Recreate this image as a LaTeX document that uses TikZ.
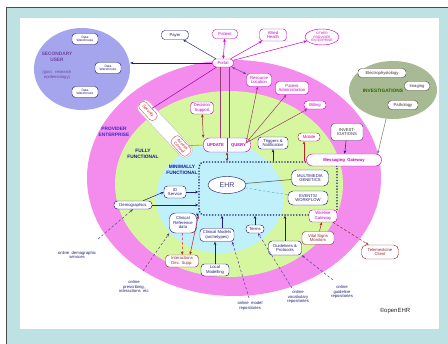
\documentclass[tikz,border=0pt]{standalone}
\usepackage{fontspec}
\setmainfont{Liberation Sans}
\usetikzlibrary{arrows.meta,shapes.geometric}
\definecolor{tealbg}{RGB}{190,226,228}
\definecolor{pinkr}{RGB}{243,140,236}
\definecolor{greenr}{RGB}{214,246,160}
\definecolor{bluer}{RGB}{192,240,250}
\definecolor{lavr}{RGB}{165,165,238}
\definecolor{oliver}{RGB}{168,186,148}
\definecolor{navyc}{RGB}{30,30,120}
\definecolor{magc}{RGB}{200,0,200}
\definecolor{brnc}{RGB}{150,40,50}
\definecolor{redc}{RGB}{190,30,40}
\definecolor{purc}{RGB}{110,70,160}
\definecolor{lnc}{RGB}{150,60,110}
\definecolor{ringc}{RGB}{60,40,200}
\definecolor{greentx}{RGB}{50,100,0}
\newcommand\fsA{\fontsize{4.2}{4.5}\selectfont}
\newcommand\fsB{\fontsize{4.8}{5.3}\selectfont}
\newcommand\fsC{\fontsize{3.3}{3.7}\selectfont}
\tikzset{
 bx/.style={draw, fill=white, rounded corners=3.5pt, inner sep=0.6pt, align=center, font=\fsA, line width=0.45pt},
 nv/.style={bx, draw=navyc, text=navyc},
 mg/.style={bx, draw=magc, text=magc},
 rd/.style={bx, draw=brnc, text=brnc},
 gy/.style={bx, draw=gray!60!black, text=gray!40!black},
 arr/.style={-{Stealth[length=3.2pt,width=2.6pt]}, line width=0.5pt},
 arrb/.style={{Stealth[length=3.2pt,width=2.6pt]}-{Stealth[length=3.2pt,width=2.6pt]}, line width=0.5pt},
 dsh/.style={dash pattern=on 2.5pt off 2pt},
 lbl/.style={font=\fsA, text=navyc, align=center, inner sep=0pt},
 ringlbl/.style={font=\fsB\bfseries, text=ringc, align=center, inner sep=0pt}
}
\begin{document}
\begin{tikzpicture}[x=1pt,y=-1pt]
\useasboundingbox (0,0) rectangle (448,344);
\fill[white] (0,0) rectangle (448,344);
\fill[tealbg] (6,7) rectangle (448,344);
\draw[gray!60!black, line width=0.8pt] (6,344) -- (6,7) -- (448,7);
\fill[white] (20,18) rectangle (439,329);
% rings
\fill[pinkr] (234,178) ellipse [x radius=147pt, y radius=118pt];
\fill[greenr] (229,184) ellipse [x radius=114pt, y radius=93pt];
\fill[bluer] (220,198) ellipse [x radius=64pt, y radius=55pt];
% side ellipses
\node[ellipse, fill=lavr, minimum width=96pt, minimum height=82pt] (sec2) at (82,69) {};
\node[font=\fsB\bfseries, text=purc, align=center, inner sep=0pt] (secl) at (57,57) {SECONDARY\\USER};
\node[font=\fsA, text=purc, align=center, inner sep=0pt] (secl2) at (57,75) {(govt,\ \ research\\epidemiology)};
\node[nv, font=\fsC, minimum width=26pt, minimum height=11pt] (dw1) at (85,39) {Data\\Warehouse};
\node[nv, font=\fsC, minimum width=26pt, minimum height=11pt] (dw2) at (108,68) {Data\\Warehouse};
\node[nv, font=\fsC, minimum width=26pt, minimum height=11pt] (dw3) at (85,92) {Data\\Warehouse};
\node[ellipse, fill=oliver, minimum width=88pt, minimum height=58pt] (invell) at (393,90) {};
\node[font=\fsB\bfseries, text=greentx, inner sep=0pt] (invl) at (383,91) {INVESTIGATIONS};
\node[gy, minimum width=48pt, minimum height=9pt] (electro) at (382,73) {Electrophysiology};
\node[gy, minimum width=25pt, minimum height=9pt] (imaging) at (417,86) {Imaging};
\node[gy, minimum width=30pt, minimum height=9pt] (path) at (403,105) {Pathology};
% ring labels
\node[ringlbl] (pe) at (114,132) {PROVIDER\\ENTERPRISE};
\node[ringlbl, text=navyc!80!blue] (ff) at (143,154) {FULLY\\FUNCTIONAL};
\node[ringlbl, text=navyc!80!blue] (mf) at (182,170) {MINIMALLY\\FUNCTIONAL};
% EHR dotted box
\node[draw=navyc, line width=1.3pt, dash pattern=on 1.3pt off 1.6pt, rounded corners=5pt, minimum width=138pt, minimum height=53pt, inner sep=0pt] (ehrbox) at (268,188.5) {};
% security bar
\node[rotate=-47, draw=gray!50, fill=white, rounded corners=5pt, minimum width=72pt, minimum height=14pt] (secbar) at (165,129) {};
\node[rotate=-47, bx, draw=redc!70, text=redc, minimum width=22pt, minimum height=9pt] (sec) at (148,111) {Security};
\node[rotate=-47, bx, draw=redc!70, text=redc, minimum width=22pt, minimum height=11pt] (acc) at (181,146) {Access\\Control};
% top nodes
\node[nv, minimum width=27pt, minimum height=9pt] (payer) at (175,35) {Payer};
\node[mg, minimum width=25pt, minimum height=9pt] (patient) at (225,34) {Patient};
\node[mg, minimum width=27pt, minimum height=12pt] (allied) at (273,35) {Allied\\Health};
\node[mg, ellipse, inner sep=0pt, font=\fsC, minimum width=34pt, minimum height=16pt] (other) at (322,37) {OTHER\\PROVIDER\\ENTERPRISE};
\node[mg, minimum width=21pt, minimum height=8pt] (portal) at (223,63) {Portal};
\node[mg, minimum width=25pt, minimum height=13pt] (resloc) at (259,80) {Resource\\Location};
\node[mg, minimum width=33pt, minimum height=13pt] (patadm) at (292,88) {Patient\\Administration};
\node[mg, minimum width=22pt, minimum height=8pt] (billing) at (315,105) {Billing};
\node[mg, minimum width=23pt, minimum height=12pt] (decsup) at (202,108) {Decision\\Support};
\node[rd, text=magc!70!red, minimum width=22pt, minimum height=8pt] (mobile) at (309,137) {Mobile};
\node[nv, minimum width=30pt, minimum height=12pt] (trig) at (273,143) {Triggers \&\\Notification};
\node[gy, draw=navyc!60!gray, minimum width=32pt, minimum height=17pt] (invest) at (347,132) {INVEST-\\IGATIONS};
\node[mg, font=\fsA\bfseries, rounded corners=6pt, minimum width=75pt, minimum height=12pt] (msg) at (344,160) {Messaging\ \ Gateway};
% update query
\node[mg, rounded corners=6pt, minimum width=47pt, minimum height=14pt] (uq) at (227,145) {};
\node[font=\fsA\bfseries, text=magc, inner sep=0pt] (upd) at (215.5,145) {UPDATE};
\node[font=\fsA\bfseries, text=magc, inner sep=0pt] (qry) at (238.5,145) {QUERY};
\draw[magc, line width=0.45pt] (uq.north) -- (uq.south);
% inner nodes
\node[nv, ellipse, inner sep=0pt, font=\fontsize{7}{8}\selectfont, text=navyc!60!gray, minimum width=38pt, minimum height=17pt] (ehr) at (227,185) {EHR};
\node[nv, rounded corners=5pt, minimum width=37pt, minimum height=16pt] (mm) at (310,178) {MULTIMEDIA\\GENETICS};
\node[nv, rounded corners=5pt, minimum width=40pt, minimum height=14pt] (ev) at (308,198) {EVENTS/\\WORKFLOW};
\node[mg, minimum width=28pt, minimum height=12pt] (wire) at (323,216) {Wireline\\Gateway};
\node[rd, minimum width=32pt, minimum height=13pt] (vital) at (318,238) {Vital Signs\\Monitors};
\node[rd, minimum width=37pt, minimum height=14pt, rounded corners=5pt] (tele) at (380,252) {Telemedicine\\Client};
\node[nv, minimum width=33pt, minimum height=14pt] (guide) at (285,248) {Guidelines \&\\Protocols};
\node[nv, minimum width=18pt, minimum height=8pt] (terms) at (255,229) {Terms};
\node[nv, minimum width=34pt, minimum height=13pt] (cm) at (217,235) {Clinical Models\\(archetypes)};
\node[nv, minimum width=28pt, minimum height=12pt] (local) at (215,270) {Local\\Modelling};
\node[nv, rounded corners=6pt, minimum width=27pt, minimum height=20pt] (cref) at (183,223) {Clinical\\Reference\\data};
\node[rd, minimum width=33pt, minimum height=12pt] (inter) at (182,261) {Interactions\\Dec. Supp.};
\node[nv, minimum width=22pt, minimum height=12pt] (idsv) at (175,192) {ID\\Service};
\node[nv, minimum width=38pt, minimum height=8pt] (demo) at (133,205) {Demographics};
% outside labels
\node[lbl] (ldemo) at (77,255) {online\ \ demographic\\services};
\node[lbl] (lpres) at (134,287) {online\\prescribing,\\interactions\ \ etc};
\node[lbl] (lmod) at (250,306) {online\ \ model\\repositories};
\node[lbl] (lvoc) at (298,297) {online\\vocabulary\\repositories};
\node[lbl] (lgui) at (342,292) {online\\guideline\\repositories};
\node[font=\fontsize{6}{7}\selectfont, text=gray!30!black, inner sep=0pt] (copy) at (395,311) {©openEHR};
\coordinate (cdemo) at (98,239);
\coordinate (cpres) at (143,271);
\coordinate (cmod) at (249,298);
\coordinate (cvoc) at (292,288);
\coordinate (cgui) at (333,280);
% connectors
\draw[arr, navyc!80!gray] (portal) -- (payer);
\draw[arrb, magc] (portal) -- (patient);
\draw[arr, magc] (portal) -- (allied);
\draw[arr, magc] (portal) -- (other);
\draw[arr, navyc] (portal.west) -- (sec2.east |- portal.west);
\draw[arrb, purc] (portal) -- (resloc);
\draw[magc!80!black, line width=0.5pt] (portal) -- (sec);
\draw[lnc, line width=0.5pt] ([xshift=-3pt]portal.south) -- ([xshift=-3pt]portal.south |- uq.north);
\draw[lnc, line width=0.5pt] ([xshift=6pt]portal.south) -- ([xshift=6pt]portal.south |- uq.north);
\draw[arr, lnc] (qry.north east) -- (resloc);
\draw[arr, lnc] (qry.north east) -- (patadm);
\draw[arr, lnc] (qry.north east) -- (billing);
\draw[arrb, brnc] (decsup) -- (uq.north west);
\draw[orange!70!brown, line width=0.6pt] (acc) -- (uq.west);
\draw[arrb, brnc] (uq.south) -- (uq.south |- ehrbox.north);
\draw[arr, navyc] (trig |- ehrbox.north) -- (trig);
\draw[arr, redc] ([xshift=-5pt]mobile.south |- ehrbox.north) -- ([xshift=-5pt]mobile.south);
\draw[arr, navyc] (invest) -- (msg);
\draw[arr, oliver!70!black] (invell) -- ([xshift=-4pt]msg.north east);
\draw[arr, redc] (vital) -- (wire);
\draw[arr, brnc, dsh] (wire) -- (tele);
\draw[arr, navyc] (guide) -- (guide |- ehrbox.south);
\draw[arr, navyc] (terms) -- (terms |- ehrbox.south);
\draw[arr, navyc] ([xshift=5pt]cm.north) -- ([xshift=5pt]cm.north |- ehrbox.south);
\draw[arr, navyc] (local) -- (local |- cm.south);
\draw[arr, purc!80!navyc, dsh] (cmod) -- ([xshift=-2pt]cm.south east);
\draw[arr, purc!80!navyc, dsh] (cvoc) -- ([xshift=3pt]terms.south);
\draw[arr, purc!80!navyc, dsh] (cgui) -- (guide.south east);
\draw[arr, purc!80!navyc, dsh] (cdemo) -- (demo.south);
\draw[arr, purc!80!navyc, dsh] (cpres) -- (cref.south west);
\draw[arr, redc, dsh] (cref) -- (inter);
\draw[arrb, redc] ([xshift=8pt]inter.north) -- (ehrbox.south west);
\draw[arr, navyc] (cref.north east) -- ([yshift=-1pt]ehrbox.south west);
\draw[arr, navyc] (demo) -- (idsv.west);
\draw[arr, navyc] (demo.east) -- (demo.east -| ehrbox.west);
\draw[arr, navyc] (idsv) -- (idsv -| ehrbox.west);
\draw[gray!60!black, line width=0.5pt] (ehr) -- (mm);
\draw[teal!60, dsh, line width=0.5pt] (ehr) -- (ev);
\end{tikzpicture}
\end{document}
